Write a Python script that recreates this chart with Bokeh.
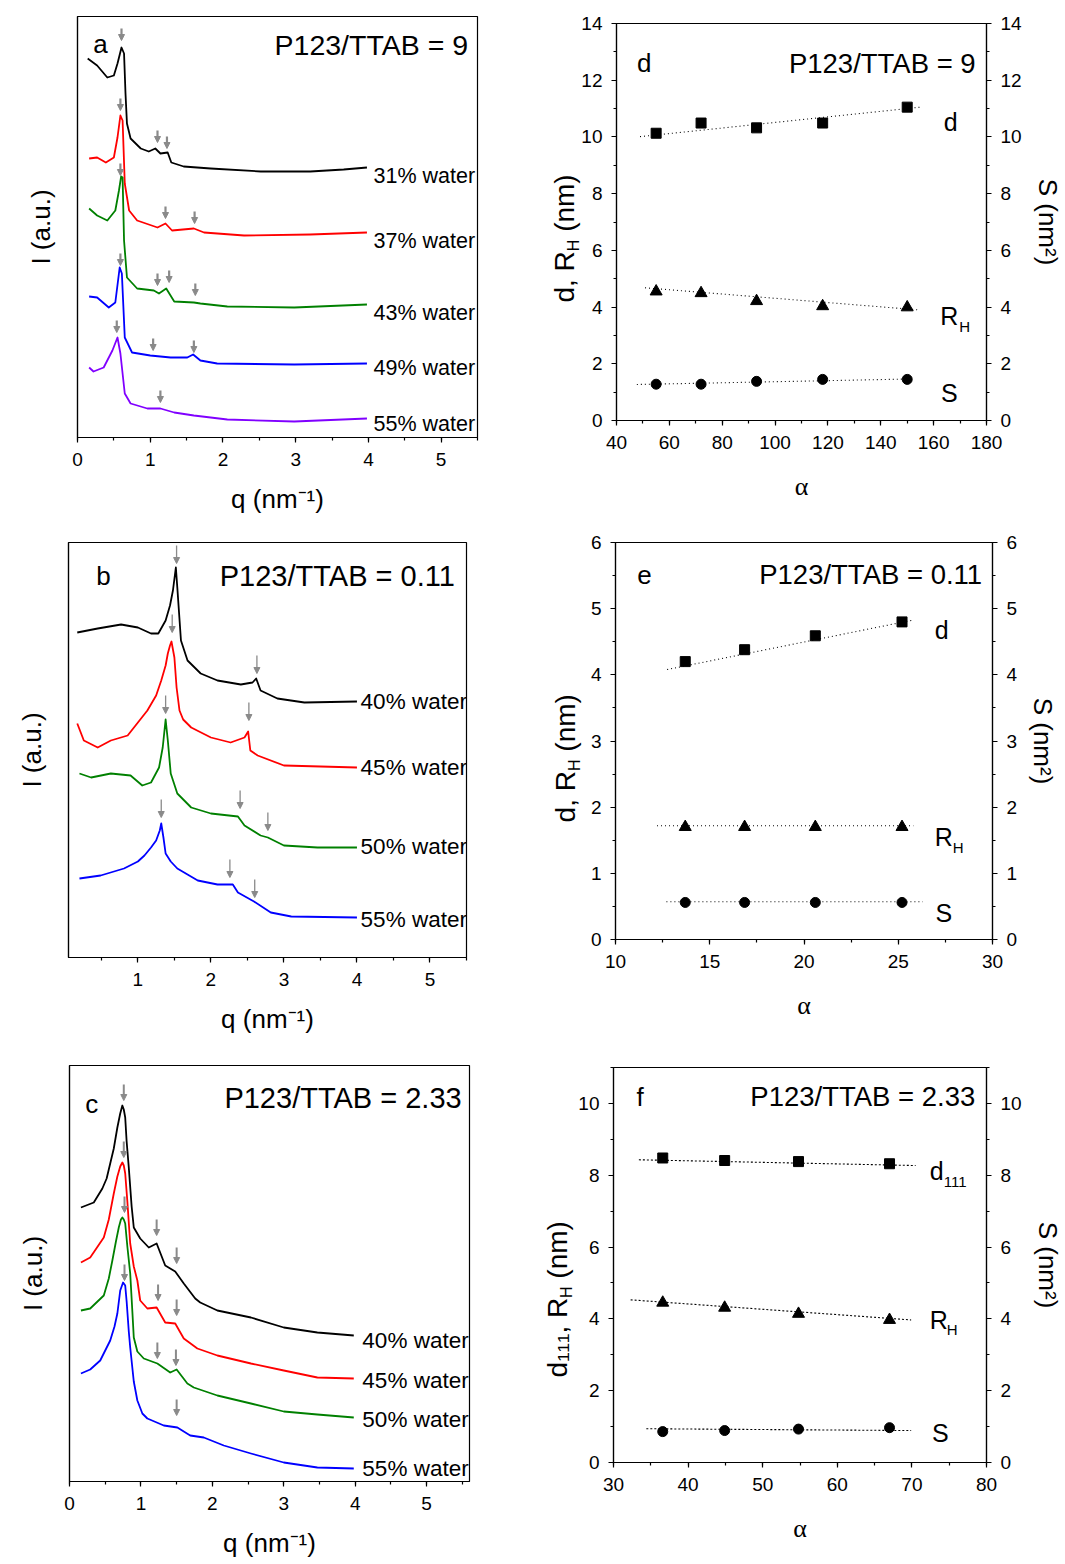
import numpy as np
from bokeh.plotting import figure
from bokeh.layouts import column, row
from bokeh.models import (Range1d, LinearAxis, SingleIntervalTicker, FixedTicker, Label,
                          Arrow, NormalHead, ColumnDataSource)
from bokeh.embed import file_html
from bokeh.resources import INLINE

SANS = "Liberation Sans"
SERIF = "Liberation Serif"
GRAY = "#8a8a8a"
BLACK, RED, GREEN, BLUE, PURPLE = "#000000", "#ff0000", "#008000", "#0000ff", "#8000ff"

# ---------------- panel a : P123/TTAB = 9 (intensity in arbitrary units) ----------------
a31_q = [0.14, 0.27, 0.41, 0.50, 0.55, 0.605, 0.64, 0.66, 0.68, 0.73, 0.87, 0.98, 1.07, 1.14, 1.24, 1.29, 1.46, 1.83, 2.52, 3.20, 3.66, 3.98]
a31_I = [379, 372, 360, 362, 374, 390, 384, 344, 314, 299, 289, 286, 289, 284, 285, 275, 271, 269, 266, 266, 268, 270]
a37_q = [0.16, 0.27, 0.39, 0.50, 0.55, 0.59, 0.62, 0.65, 0.71, 0.82, 1.10, 1.21, 1.30, 1.60, 1.74, 2.29, 3.20, 3.98]
a37_I = [279, 280, 275, 280, 300, 322, 317, 254, 227, 217, 210, 214, 207, 209, 205, 202, 203, 205]
a43_q = [0.16, 0.27, 0.41, 0.52, 0.57, 0.60, 0.62, 0.64, 0.68, 0.82, 1.05, 1.12, 1.22, 1.33, 1.60, 1.69, 2.06, 2.98, 3.98]
a43_I = [229, 222, 217, 227, 247, 261, 260, 197, 160, 149, 147, 144, 149, 136, 135, 134, 131, 130, 133]
a49_q = [0.16, 0.27, 0.43, 0.52, 0.58, 0.61, 0.65, 0.75, 1.00, 1.28, 1.51, 1.59, 1.69, 1.92, 2.98, 3.98]
a49_I = [141, 140, 130, 135, 170, 164, 100, 85, 82, 80, 80, 83, 77, 74, 73, 74]
a55_q = [0.16, 0.22, 0.36, 0.48, 0.55, 0.59, 0.65, 0.73, 0.96, 1.14, 1.33, 1.60, 2.06, 2.98, 3.98]
a55_I = [70, 66, 70, 87, 100, 84, 44, 34, 29, 29, 25, 22, 18, 16, 19]
a_labels = ["31% water", "37% water", "43% water", "49% water", "55% water"]
a_arrow_q = [0.605, 1.10, 1.23, 0.59, 1.21, 1.61, 0.59, 1.10, 1.26, 1.62, 0.59, 1.04, 1.60, 0.54, 1.14]
a_arrow_I = [397, 295, 289, 327, 219, 214, 262, 152, 155, 142, 172, 87, 85, 105, 35]

# ---------------- panel b : P123/TTAB = 0.11 ----------------
b40_q = [0.17, 0.45, 0.77, 1.00, 1.18, 1.28, 1.38, 1.44, 1.48, 1.52, 1.54, 1.59, 1.68, 1.86, 2.09, 2.41, 2.57, 2.62, 2.68, 2.91, 3.28, 4.00]
b40_I = [325, 329, 333, 330, 324, 324, 337, 352, 367, 390, 370, 317, 297, 284, 277, 273, 275, 279, 267, 259, 255, 256]
b45_q = [0.17, 0.26, 0.45, 0.63, 0.86, 1.13, 1.25, 1.32, 1.38, 1.41, 1.44, 1.46, 1.50, 1.53, 1.57, 1.62, 1.73, 2.00, 2.27, 2.46, 2.51, 2.54, 2.64, 3.00, 4.00]
b45_I = [234, 217, 210, 217, 222, 247, 262, 277, 292, 304, 312, 316, 300, 270, 247, 238, 230, 220, 215, 220, 226, 207, 202, 192, 190]
b50_q = [0.20, 0.36, 0.63, 0.90, 1.06, 1.18, 1.29, 1.34, 1.38, 1.41, 1.45, 1.54, 1.73, 2.00, 2.37, 2.46, 2.68, 2.78, 3.00, 3.46, 4.00]
b50_I = [184, 180, 184, 182, 172, 175, 190, 210, 238, 217, 184, 164, 150, 144, 141, 132, 122, 120, 112, 110, 110]
b55_q = [0.20, 0.49, 0.81, 1.00, 1.09, 1.18, 1.25, 1.30, 1.32, 1.35, 1.38, 1.45, 1.54, 1.82, 2.09, 2.30, 2.37, 2.59, 2.82, 3.10, 4.00]
b55_I = [79, 82, 89, 96, 102, 110, 117, 127, 134, 120, 104, 96, 89, 77, 73, 73, 65, 56, 45, 41, 40]
b_labels = ["40% water", "45% water", "50% water", "55% water"]
b_arrow_q = [1.53, 2.63, 1.47, 2.52, 1.38, 2.40, 2.78, 1.32, 2.26, 2.60]
b_arrow_I = [394, 284, 325, 237, 244, 149, 127, 140, 80, 60]

# ---------------- panel c : P123/TTAB = 2.33 ----------------
c40_q = [0.16, 0.34, 0.46, 0.52, 0.57, 0.62, 0.67, 0.71, 0.74, 0.76, 0.78, 0.80, 0.83, 0.87, 0.90, 0.99, 1.11, 1.22, 1.34, 1.48, 1.60, 1.76, 1.83, 2.07, 2.54, 3.00, 3.47, 3.98]
c40_I = [274, 279, 293, 303, 318, 333, 354, 368, 376, 372, 364, 340, 314, 275, 254, 243, 234, 238, 216, 210, 198, 183, 179, 171, 164, 154, 149, 146]
c45_q = [0.16, 0.29, 0.48, 0.55, 0.62, 0.67, 0.71, 0.74, 0.76, 0.78, 0.81, 0.85, 0.90, 0.95, 0.99, 1.09, 1.22, 1.34, 1.48, 1.60, 1.79, 2.07, 2.54, 3.00, 3.47, 3.98]
c45_I = [219, 224, 244, 262, 288, 305, 315, 319, 316, 308, 280, 238, 215, 201, 181, 173, 174, 159, 158, 143, 133, 126, 118, 111, 104, 103]
c50_q = [0.16, 0.29, 0.48, 0.55, 0.60, 0.65, 0.69, 0.72, 0.74, 0.76, 0.78, 0.81, 0.85, 0.88, 0.90, 0.95, 1.04, 1.23, 1.41, 1.50, 1.65, 1.74, 2.07, 2.54, 3.00, 3.47, 3.98]
c50_I = [171, 173, 186, 203, 221, 240, 254, 262, 264, 262, 258, 235, 208, 170, 144, 130, 123, 118, 109, 112, 98, 94, 86, 78, 70, 67, 64]
c55_q = [0.16, 0.29, 0.43, 0.57, 0.63, 0.67, 0.71, 0.75, 0.78, 0.80, 0.83, 0.85, 0.90, 0.95, 1.02, 1.09, 1.32, 1.51, 1.69, 1.88, 2.16, 2.54, 3.00, 3.47, 3.98]
c55_I = [108, 112, 121, 141, 155, 168, 191, 199, 196, 180, 150, 134, 100, 81, 68, 63, 56, 54, 46, 44, 36, 28, 19, 14, 13]
c_labels = ["40% water", "45% water", "50% water", "55% water"]
c_arrow_q = [0.76, 1.22, 1.50, 0.76, 1.24, 1.50, 0.77, 1.23, 1.49, 0.77, 1.50]
c_arrow_I = [381, 246, 218, 324, 181, 166, 269, 123, 116, 201, 66]

# ---------------- panel d : P123/TTAB = 9 ----------------
d_alpha = [55, 72, 93, 118, 150]
d_d = [10.13, 10.49, 10.32, 10.49, 11.05]
d_RH = [4.55, 4.49, 4.21, 4.03, 3.99]
d_S = [1.28, 1.28, 1.38, 1.45, 1.45]
d_fit_d = ([48.9, 155.0], [10.01, 11.05])
d_fit_RH = ([50.8, 154.4], [4.68, 3.90])
d_fit_S = ([47.7, 149.0], [1.27, 1.46])

# ---------------- panel e : P123/TTAB = 0.11 ----------------
e_alpha = [13.7, 16.85, 20.6, 25.2]
e_d = [4.20, 4.38, 4.59, 4.80]
e_RH = [1.70, 1.70, 1.70, 1.70]
e_S = [0.56, 0.56, 0.56, 0.56]
e_fit_d = ([12.74, 25.83], [4.08, 4.83])
e_fit_RH = ([12.2, 25.8], [1.72, 1.72])
e_fit_S = ([12.7, 26.3], [0.57, 0.57])

# ---------------- panel f : P123/TTAB = 2.33 ----------------
f_alpha = [36.6, 44.9, 54.8, 67.0]
f_d111 = [8.48, 8.41, 8.38, 8.32]
f_RH = [4.45, 4.31, 4.14, 3.97]
f_S = [0.86, 0.89, 0.93, 0.97]
f_fit_d = ([33.4, 70.5], [8.43, 8.27])
f_fit_RH = ([32.3, 69.9], [4.53, 3.97])
f_fit_S = ([34.4, 69.9], [0.94, 0.89])


def make_fig(width, height, left, right, top, bottom, xr, yr):
    p = figure(width=width, height=height, x_range=Range1d(*xr), y_range=Range1d(*yr),
               output_backend="svg", toolbar_location=None,
               min_border_left=left, min_border_right=right,
               min_border_top=top, min_border_bottom=bottom,
               x_axis_type=None, y_axis_type=None)
    p.frame_align = False
    p.outline_line_color = "black"
    p.outline_line_width = 1.2
    p.outline_line_alpha = 1.0
    p.background_fill_color = "white"
    p.border_fill_color = "white"
    return p


def add_axis(p, side, ticker, label="", label_size="26px", label_font=SANS,
             tick_size="19px", label_standoff=10, tick_standoff=6, tick_out=5, minor_out=3):
    ax = LinearAxis(ticker=ticker, axis_label=label)
    ax.axis_line_color = "black"
    ax.axis_line_width = 1.2
    ax.major_tick_line_color = "black"
    ax.minor_tick_line_color = "black"
    ax.major_tick_line_width = 1.2
    ax.minor_tick_line_width = 1.2
    ax.major_tick_out = tick_out
    ax.major_tick_in = 0
    ax.minor_tick_out = minor_out
    ax.minor_tick_in = 0
    ax.major_label_text_font = SANS
    ax.major_label_text_font_size = tick_size
    ax.major_label_text_color = "black"
    ax.major_label_standoff = tick_standoff
    ax.axis_label_text_font = label_font
    ax.axis_label_text_font_size = label_size
    ax.axis_label_text_font_style = "normal"
    ax.axis_label_text_color = "black"
    ax.axis_label_standoff = label_standoff
    p.add_layout(ax, side)
    return ax


def txt(p, x, y, text, size="25px", align="left", xo=0, yo=0, angle=0, font=SANS, place=None):
    lab = Label(x=x, y=y, text=text, text_font=font, text_font_size=size,
                text_align=align, text_baseline="alphabetic", text_color="black",
                x_offset=xo, y_offset=yo, angle=angle)
    if place is None:
        p.add_layout(lab)
    else:
        p.add_layout(lab, place)


def saxs_panel(width, height, borders, xr, yr, curves, arrow_q, arrow_I, arrow_len,
               arrow_w, head, letter, letter_xy, title, title_xy, title_size,
               labels, label_q, label_I, label_size):
    p = make_fig(width, height, *borders, xr, yr)
    add_axis(p, "below", SingleIntervalTicker(interval=1, num_minor_ticks=2),
             label="q (nm\u207b\u00b9)", label_standoff=15, tick_standoff=10)
    add_axis(p, "left", FixedTicker(ticks=[]), label="I (a.u.)", label_standoff=22,
             tick_out=0, minor_out=0)
    for (q, I, col) in curves:
        p.line(q, I, line_color=col, line_width=1.8, line_join="round")
    src = ColumnDataSource(dict(x=arrow_q, y1=arrow_I,
                                y0=list(np.array(arrow_I, dtype=float) + arrow_len)))
    p.add_layout(Arrow(end=NormalHead(size=head, fill_color=GRAY, line_color=GRAY),
                       x_start="x", y_start="y0", x_end="x", y_end="y1", source=src,
                       line_color=GRAY, line_width=arrow_w))
    txt(p, letter_xy[0], letter_xy[1], letter, size="26px")
    txt(p, title_xy[0], title_xy[1], title, size=title_size, align="right")
    for lab, yy in zip(labels, label_I):
        txt(p, label_q, yy, lab, size=label_size)
    return p


def param_panel(width, height, borders, xr, yr, xint, yint, data, fits, dash,
                letter, letter_xy, title, title_xy, names, ylab):
    p = make_fig(width, height, *borders, xr, yr)
    add_axis(p, "below", SingleIntervalTicker(interval=xint, num_minor_ticks=2),
             label="\u03b1", label_font=SERIF, label_standoff=20, tick_standoff=10)
    add_axis(p, "left", SingleIntervalTicker(interval=yint, num_minor_ticks=2), label="",
             tick_standoff=9)
    add_axis(p, "right", SingleIntervalTicker(interval=yint, num_minor_ticks=2),
             label="S (nm\u00b2)", label_standoff=8, tick_standoff=9)
    for fx, fy in fits:
        p.line(fx, fy, line_color="black", line_width=1.1, line_dash=dash)
    x, yd, yr_, ys = data
    p.scatter(x, yd, marker="square", size=10, color="black")
    p.scatter(x, yr_, marker="triangle", size=12, color="black")
    p.scatter(x, ys, marker="circle", size=10, color="black")
    txt(p, letter_xy[0], letter_xy[1], letter, size="26px")
    txt(p, title_xy[0], title_xy[1], title, size="27.5px", align="right")
    for (main, sub, xy, sub_dx, sub_dy) in names:
        txt(p, xy[0], xy[1], main, size="25px")
        if sub:
            txt(p, xy[0], xy[1], sub, size="15px", xo=sub_dx, yo=-sub_dy)
    # rotated y-axis label built from pieces (for the subscripts), drawn in the left panel
    (ax_, ay_), pieces = ylab
    off = 0.0
    for text_, size_, w_, dx_ in pieces:
        txt(p, ax_, ay_, text_, size=size_, xo=dx_, yo=off, angle=np.pi / 2, place="left")
        off += w_
    return p


LW = 490   # width of the left-column figures
RW = 1065 - LW

fa = saxs_panel(LW, 525, (77, LW - 477, 16, 88), (0, 5.5), (0, 421),
                [(a31_q, a31_I, BLACK), (a37_q, a37_I, RED), (a43_q, a43_I, GREEN),
                 (a49_q, a49_I, BLUE), (a55_q, a55_I, PURPLE)],
                a_arrow_q, a_arrow_I, 12, 2.2, 6, "a", (0.215, 394), "P123/TTAB = 9", (5.37, 393),
                "28.5px", a_labels, 4.07, [262, 197, 125, 70, 14], "21.5px")

fb = saxs_panel(LW, 520, (68, LW - 466, 17, 88), (0.05, 5.5), (0, 415),
                [(b40_q, b40_I, BLACK), (b45_q, b45_I, RED), (b50_q, b50_I, GREEN),
                 (b55_q, b55_I, BLUE)],
                b_arrow_q, b_arrow_I, 18, 1.3, 6, "b", (0.43, 382), "P123/TTAB = 0.11", (5.34, 382),
                "29px", b_labels, 4.05, [256, 190, 111, 38], "22.5px")

fc = saxs_panel(LW, 515, (69, LW - 469, 20, 79), (0, 5.6), (0, 416),
                [(c40_q, c40_I, BLACK), (c45_q, c45_I, RED), (c50_q, c50_I, GREEN),
                 (c55_q, c55_I, BLUE)],
                c_arrow_q, c_arrow_I, 16, 2.0, 6, "c", (0.22, 378), "P123/TTAB = 2.33", (5.49, 384),
                "29px", c_labels, 4.10, [141, 101, 62, 13], "22.5px")

YF = 28                       # font size of the rotated left axis titles
W1 = (0.556 + 0.278 + 0.278 + 0.722) * YF
W111 = (0.556 + 3 * 0.556 * 0.6 + 0.278 + 0.278 + 0.722) * YF
WH = 0.722 * 16 + 0.278 * YF
ylab_main = ("d, R", "%dpx" % YF, W1, 0)
ylab_sub = ("H", "16px", WH, 9)
ylab_end = ("(nm)", "%dpx" % YF, 0, 0)

fd = param_panel(RW, 525, (616 - LW, RW - (616 - LW) - 377, 23, 105), (40, 180), (0, 14), 20, 2,
                 (d_alpha, d_d, d_RH, d_S), [d_fit_d, d_fit_RH, d_fit_S], "1 3",
                 "d", (47.8, 12.59), "P123/TTAB = 9", (175.9, 12.59),
                 [("d", None, (163.8, 10.52), 0, 0), ("R", "H", (162.5, 3.70), 19, 11),
                  ("S", None, (162.8, 0.98), 0, 0)],
                 ((20.3, 4.16), [ylab_main, ylab_sub, ylab_end]))

fe = param_panel(RW, 520, (615 - LW, RW - (615 - LW) - 377, 17, 106), (10, 30), (0, 6), 5, 1,
                 (e_alpha, e_d, e_RH, e_S), [e_fit_d, e_fit_RH, e_fit_S], "1 3",
                 "e", (11.15, 5.51), "P123/TTAB = 0.11", (29.45, 5.51),
                 [("d", None, (26.94, 4.68), 0, 0), ("R", "H", (26.94, 1.55), 18, 11),
                  ("S", None, (26.98, 0.40), 0, 0)],
                 ((7.35, 1.77), [ylab_main, ylab_sub, ylab_end]))

ff = param_panel(RW, 515, (613 - LW, RW - (613 - LW) - 373, 22, 98), (30, 80), (0, 11), 10, 2,
                 (f_alpha, f_d111, f_RH, f_S), [f_fit_d, f_fit_RH, f_fit_S], "2 2",
                 "f", (33.08, 10.18), "P123/TTAB = 2.33", (78.5, 10.18),
                 [("d", "111", (72.4, 8.13), 14, 11), ("R", "H", (72.4, 3.96), 17, 9),
                  ("S", None, (72.7, 0.82), 0, 0)],
                 ((22.5, 2.37), [("d\u2081\u2081\u2081, R", "%dpx" % YF, W111, 0), ylab_sub, ylab_end]))

layout = column(row(fa, fd), row(fb, fe), row(fc, ff))
open("out.html", "w").write(file_html(layout, INLINE))
